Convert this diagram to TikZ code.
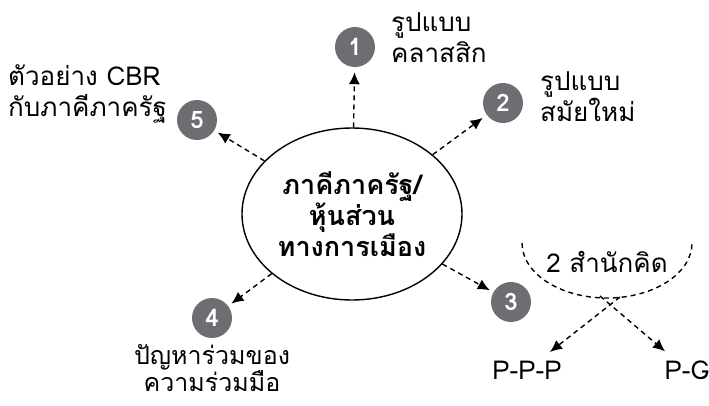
\documentclass[tikz,border=0pt]{standalone}
\usepackage{fontspec}
\setmainfont[Script=Thai]{Loma}
\usetikzlibrary{shapes.geometric,arrows.meta}
\definecolor{numgrey}{HTML}{6D6E71}
\tikzset{
  num/.style={circle,fill=numgrey,text=white,minimum size=40pt,inner sep=0pt,font=\bfseries\fontsize{24}{24}\selectfont},
  lbl/.style={font=\fontsize{26}{31}\selectfont,align=left,inner sep=0pt},
  darr/.style={dashed,dash pattern=on 5pt off 4pt,line width=1.4pt,-{Latex[length=12pt,width=11pt]}},
  dline/.style={dashed,dash pattern=on 5pt off 4pt,line width=1.4pt},
}
\begin{document}
\begin{tikzpicture}[x=1pt,y=-1pt]
\useasboundingbox (0,0) rectangle (709,405);
\node[ellipse,draw,line width=1.4pt,minimum width=220pt,minimum height=172pt,inner sep=0pt,
  align=center,font=\bfseries\fontsize{27}{31}\selectfont] (c) at (352,214) {ภาคีภาครัฐ/\\หุ้นส่วน\\ทางการเมือง};
\node[num] (n1) at (355,47) {1};
\node[num] (n2) at (503,103) {2};
\node[num] (n3) at (511,302) {3};
\node[num] (n4) at (212,318) {4};
\node[num] (n5) at (197,120) {5};
\node[lbl,anchor=west] (t1) at (391,38) {รูปแบบ\\คลาสสิก};
\node[lbl,anchor=west] (t2) at (540,97) {รูปแบบ\\สมัยใหม่};
\node[lbl,anchor=west] (t5) at (8,94) {ตัวอย่าง CBR\\กับภาคีภาครัฐ};
\node[lbl,align=center,font=\fontsize{25}{27}\selectfont] (t4) at (212,368) {ปัญหาร่วมของ\\ความร่วมมือ};
\node[lbl] (t3) at (607,262) {2 สำนักคิด};
\node[lbl] (ppp) at (527,370) {P-P-P};
\node[lbl] (pg) at (687,370) {P-G};
\draw[darr,shorten >=5pt] (c) -- (n1);
\draw[darr,shorten >=5pt] (c) -- (n2);
\draw[darr,shorten >=4pt] (c) -- (n3);
\draw[darr,shorten >=4pt] (c) -- (n4);
\draw[darr,shorten >=4pt] (c) -- (n5);
\coordinate (al) at (522,243);
\draw[dline] (al) arc[start angle=180,end angle=0,x radius=85,y radius=55];
\coordinate (s1) at (620,297);
\coordinate (s2) at (600,296);
\draw[darr,shorten >=14pt] (s1) -- (ppp);
\draw[darr,shorten >=14pt] (s2) -- (pg);
\end{tikzpicture}
\end{document}
